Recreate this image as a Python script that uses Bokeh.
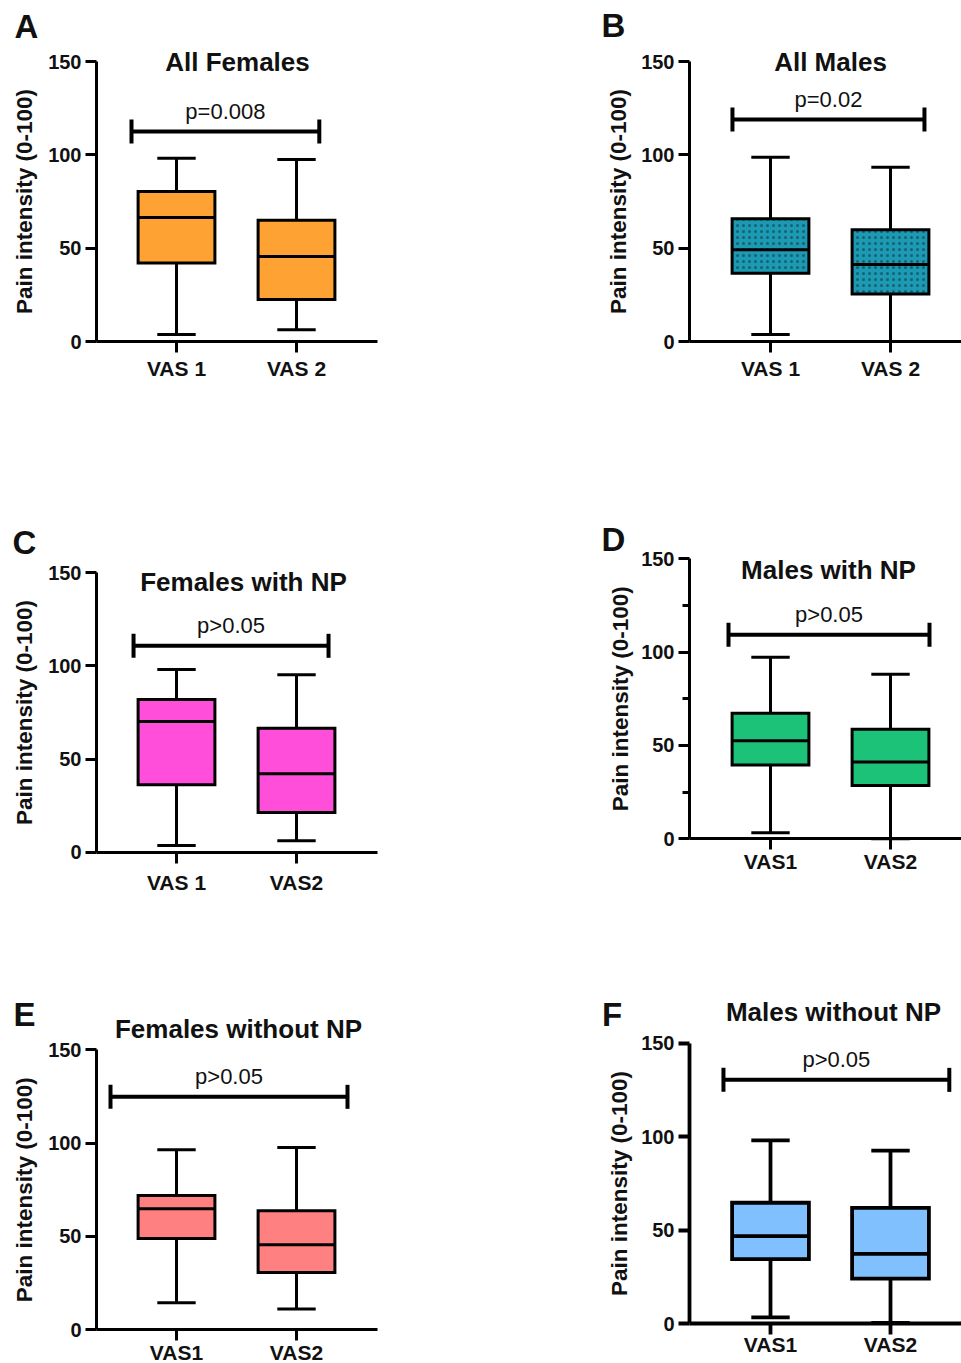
import math
from bokeh.plotting import figure
from bokeh.layouts import column, row
from bokeh.models import FixedTicker
from bokeh.core.properties import value
from bokeh.embed import file_html
from bokeh.resources import INLINE

FONT = "Liberation Sans"

# ---------------- data ----------------
A_cats = ["VAS 1", "VAS 2"]
A_min = [3.7, 6.3]
A_q1 = [42.1, 22.5]
A_med = [66.4, 45.5]
A_q3 = [80.3, 65.0]
A_max = [98.2, 97.5]
A_p_y = 112.5
A_p_x = [0.625, 2.19]
A_p_text = "p=0.008"
A_title = "All Females"

B_cats = ["VAS 1", "VAS 2"]
B_min = [3.7, 0.0]
B_q1 = [36.6, 25.5]
B_med = [49.1, 41.2]
B_q3 = [65.7, 59.8]
B_max = [98.7, 93.4]
B_p_y = 118.9
B_p_x = [0.683, 2.283]
B_p_text = "p=0.02"
B_title = "All Males"

C_cats = ["VAS 1", "VAS2"]
C_min = [3.6, 6.1]
C_q1 = [36.2, 21.3]
C_med = [70.2, 42.1]
C_q3 = [82.0, 66.6]
C_max = [98.1, 95.3]
C_p_y = 110.8
C_p_x = [0.642, 2.267]
C_p_text = "p>0.05"
C_title = "Females with NP"

D_cats = ["VAS1", "VAS2"]
D_min = [3.2, 0.0]
D_q1 = [39.6, 28.6]
D_med = [52.5, 41.1]
D_q3 = [67.3, 58.75]
D_max = [97.3, 88.2]
D_p_y = 109.3
D_p_x = [0.65, 2.325]
D_p_text = "p>0.05"
D_title = "Males with NP"

E_cats = ["VAS1", "VAS2"]
E_min = [14.5, 11.1]
E_q1 = [48.9, 30.7]
E_med = [64.8, 45.5]
E_q3 = [72.0, 63.75]
E_max = [96.4, 97.7]
E_p_y = 124.8
E_p_x = [0.45, 2.425]
E_p_text = "p>0.05"
E_title = "Females without NP"

F_cats = ["VAS1", "VAS2"]
F_min = [3.4, 0.5]
F_q1 = [34.6, 24.1]
F_med = [46.9, 37.4]
F_q3 = [64.7, 62.0]
F_max = [98.0, 92.6]
F_p_y = 130.4
F_p_x = [0.608, 2.49]
F_p_text = "p>0.05"
F_title = "Males without NP"

y_ticks = [0, 50, 100, 150]
y_minor = [25, 75, 125]
y_label = "Pain intensity (0-100)"

# ---------------- styling / layout (pixel geometry of each panel) ----------------
panels = [
    dict(letter="A", cats=A_cats, mn=A_min, q1=A_q1, med=A_med, q3=A_q3, mx=A_max,
         py=A_p_y, px=A_p_x, ptext=A_p_text, title=A_title, color="#FFA234", hatch=False,
         W=590, H=500, L=96, R=377, B=341, Y150=61, X1=176,
         tpx=(237, 61.5), lpx=(26, 26), ylx=24, minor=False, lw=3, xstand=4),
    dict(letter="B", cats=B_cats, mn=B_min, q1=B_q1, med=B_med, q3=B_q3, mx=B_max,
         py=B_p_y, px=B_p_x, ptext=B_p_text, title=B_title, color="#1C9AB4", hatch=True,
         W=371, H=500, L=99, R=371, B=341, Y150=61, X1=180,
         tpx=(240, 61.5), lpx=(23, 25), ylx=28, minor=False, lw=3, xstand=4),
    dict(letter="C", cats=C_cats, mn=C_min, q1=C_q1, med=C_med, q3=C_q3, mx=C_max,
         py=C_p_y, px=C_p_x, ptext=C_p_text, title=C_title, color="#FF4FDA", hatch=False,
         W=590, H=480, L=96, R=377, B=351.7, Y150=72.3, X1=176,
         tpx=(243, 81.7), lpx=(24, 41.5), ylx=24, minor=False, lw=3, xstand=8),
    dict(letter="D", cats=D_cats, mn=D_min, q1=D_q1, med=D_med, q3=D_q3, mx=D_max,
         py=D_p_y, px=D_p_x, ptext=D_p_text, title=D_title, color="#1DC279", hatch=False,
         W=371, H=480, L=99, R=371, B=338.3, Y150=58.3, X1=180,
         tpx=(238, 69), lpx=(23, 38.5), ylx=30, minor=True, lw=3, xstand=0),
    dict(letter="E", cats=E_cats, mn=E_min, q1=E_q1, med=E_med, q3=E_q3, mx=E_max,
         py=E_p_y, px=E_p_x, ptext=E_p_text, title=E_title, color="#FF8080", hatch=False,
         W=590, H=383, L=96, R=377, B=349.3, Y150=69.3, X1=176,
         tpx=(238, 48.8), lpx=(24, 33.5), ylx=24, minor=False, lw=3, xstand=0),
    dict(letter="F", cats=F_cats, mn=F_min, q1=F_q1, med=F_med, q3=F_q3, mx=F_max,
         py=F_p_y, px=F_p_x, ptext=F_p_text, title=F_title, color="#80C0FF", hatch=False,
         W=371, H=383, L=99, R=371, B=343.3, Y150=62.7, X1=180,
         tpx=(243, 31.7), lpx=(21.5, 33.5), ylx=29, minor=False, lw=3.8, xstand=-2),
]

UNIT = 120.0  # pixels between the two categories
BOX_W = 0.64
CAP_W = 0.32
TXT = "#111111"


def make_panel(c):
    s = (c["B"] - c["Y150"]) / 150.0  # pixels per unit

    def fx(px):
        return 1 + (px - c["X1"]) / UNIT

    def fy(py):
        return (c["B"] - py) / s

    p = figure(width=c["W"], height=c["H"], x_range=(fx(0), fx(c["W"])),
               y_range=(fy(c["H"]), fy(0)),
               output_backend="svg", toolbar_location=None, title=None,
               min_border_left=0, min_border_right=0, min_border_top=0, min_border_bottom=0)
    p.outline_line_color = None
    p.xgrid.visible = False
    p.ygrid.visible = False
    lw = c["lw"]

    xs = [1, 2]
    # whiskers
    p.segment(x0=xs, y0=c["q3"], x1=xs, y1=c["mx"], line_color="black", line_width=lw)
    p.segment(x0=xs, y0=c["mn"], x1=xs, y1=c["q1"], line_color="black", line_width=lw)
    # caps
    p.segment(x0=[x - CAP_W / 2 for x in xs], y0=c["mx"], x1=[x + CAP_W / 2 for x in xs], y1=c["mx"],
              line_color="black", line_width=lw)
    p.segment(x0=[x - CAP_W / 2 for x in xs], y0=c["mn"], x1=[x + CAP_W / 2 for x in xs], y1=c["mn"],
              line_color="black", line_width=lw)
    # boxes
    kw = {}
    if c["hatch"]:
        kw = dict(hatch_pattern="dot", hatch_color="#176070", hatch_scale=6, hatch_weight=0.5)
    p.vbar(x=xs, width=BOX_W, bottom=c["q1"], top=c["q3"], fill_color=c["color"],
           line_color="black", line_width=lw, line_join="miter", **kw)
    # medians
    p.segment(x0=[x - BOX_W / 2 for x in xs], y0=c["med"], x1=[x + BOX_W / 2 for x in xs], y1=c["med"],
              line_color="black", line_width=lw)

    # significance bar
    cap_h = 12 / s
    x0, x1 = c["px"]
    p.segment(x0=[x0, x0, x1], y0=[c["py"], c["py"] - cap_h, c["py"] - cap_h],
              x1=[x1, x0, x1], y1=[c["py"], c["py"] + cap_h, c["py"] + cap_h],
              line_color="black", line_width=4)
    p.text(x=[(x0 + x1) / 2], y=[c["py"]], text=[c["ptext"]], text_align="center",
           text_baseline="middle", y_offset=-20, text_font=value(FONT),
           text_font_size="22px", text_color=TXT)
    # panel title
    p.text(x=[fx(c["tpx"][0])], y=[fy(c["tpx"][1])], text=[c["title"]], text_align="center",
           text_baseline="middle", text_font=value(FONT), text_font_size="26px",
           text_font_style="bold", text_color=TXT)
    # panel letter
    p.text(x=[fx(c["lpx"][0])], y=[fy(c["lpx"][1])], text=[c["letter"]], text_align="center",
           text_baseline="middle", text_font=value(FONT), text_font_size="33px",
           text_font_style="bold", text_color=TXT)
    # y axis title (centred on the drawn axis)
    p.text(x=[fx(c["ylx"])], y=[75], text=[y_label], angle=math.pi / 2, text_align="center",
           text_baseline="middle", text_font=value(FONT), text_font_size="22.5px",
           text_font_style="bold", text_color=TXT)

    # axes, drawn at fixed positions inside the frame
    ya = p.yaxis[0]
    ya.fixed_location = fx(c["L"])
    ya.ticker = FixedTicker(ticks=y_ticks, minor_ticks=y_minor if c["minor"] else [])
    ya.bounds = (0, 150)
    ya.major_label_text_font = FONT
    ya.major_label_text_font_size = "20px"
    ya.major_label_text_font_style = "bold"
    ya.major_label_text_color = TXT
    ya.major_label_standoff = 4

    xa = p.xaxis[0]
    xa.fixed_location = 0
    xa.bounds = (fx(c["L"]), fx(c["R"]))
    xa.ticker = FixedTicker(ticks=xs, minor_ticks=[])
    xa.major_label_overrides = {1: c["cats"][0], 2: c["cats"][1]}
    xa.major_label_text_font = FONT
    xa.major_label_text_font_size = "21px"
    xa.major_label_text_font_style = "bold"
    xa.major_label_text_color = TXT
    xa.major_label_standoff = c["xstand"]

    for ax in (xa, ya):
        ax.axis_line_width = lw
        ax.axis_line_color = "black"
        ax.major_tick_line_width = lw
        ax.major_tick_line_color = "black"
        ax.major_tick_out = 11
        ax.major_tick_in = 0
        ax.minor_tick_line_width = lw
        ax.minor_tick_line_color = "black"
        ax.minor_tick_out = 7
        ax.minor_tick_in = 0
    return p


figs = [make_panel(c) for c in panels]
layout = column(row(figs[0], figs[1]), row(figs[2], figs[3]), row(figs[4], figs[5]))

open("out.html", "w").write(file_html(layout, INLINE))
